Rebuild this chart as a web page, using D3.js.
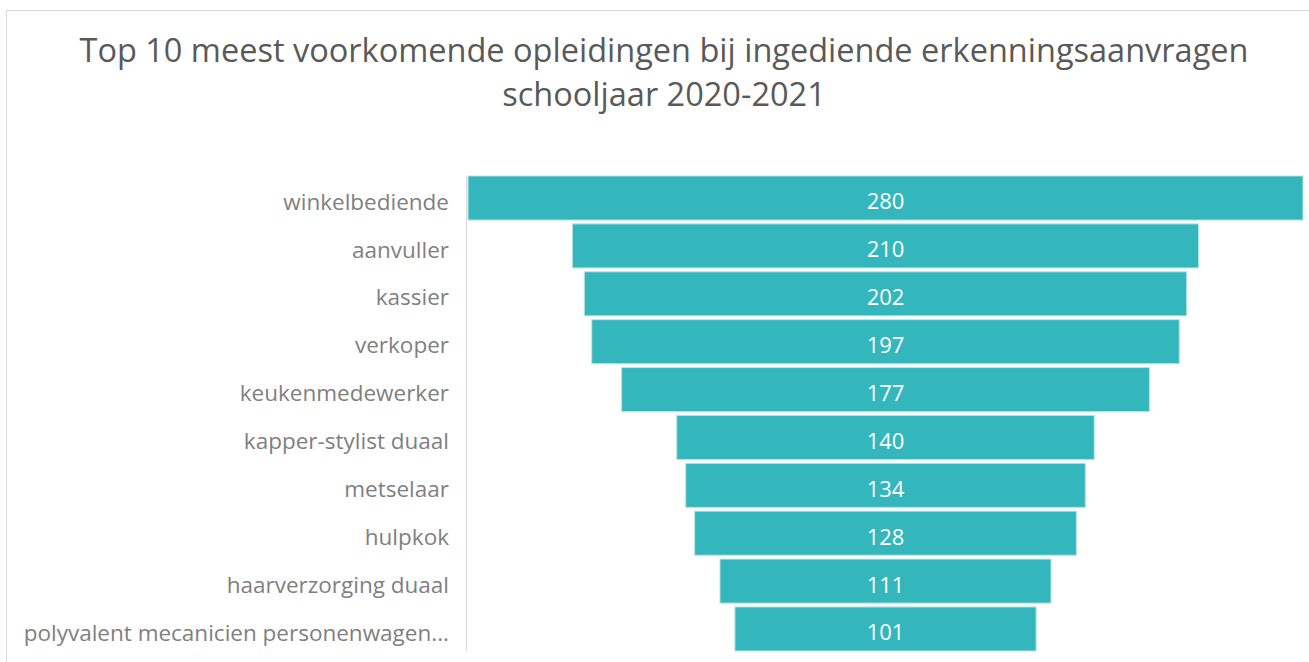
<!doctype html>
<html>
<head>
<script src="https://cdnjs.cloudflare.com/ajax/libs/d3/7.8.5/d3.min.js"></script>
<style>
body { margin: 0; background: #fff; }
svg { font-family: "Open Sans", "Noto Sans", sans-serif; }
.title { font-size: 32.5px; fill: #595959; text-anchor: middle; }
.cat { font-size: 22.5px; fill: #7f7f7f; text-anchor: end; }
.val { font-size: 22px; fill: #fff; text-anchor: middle; }
</style>
</head>
<body>
<svg width="1309" height="662"></svg>
<script>
var categories = ["winkelbediende", "aanvuller", "kassier", "verkoper", "keukenmedewerker",
  "kapper-stylist duaal", "metselaar", "hulpkok", "haarverzorging duaal",
  "polyvalent mecanicien personenwagen..."];
var counts = [280, 210, 202, 197, 177, 140, 134, 128, 111, 101];
var titleLines = ["Top 10 meest voorkomende opleidingen bij ingediende erkenningsaanvragen",
  "schooljaar 2020-2021"];

var svg = d3.select("svg");

// chart frame
svg.append("path")
  .attr("d", "M6.5,662 V10.5 H1309")
  .attr("fill", "none").attr("stroke", "#d9d9d9").attr("stroke-width", 1);

svg.selectAll("text.title").data(titleLines).enter()
  .append("text").attr("class", "title")
  .attr("x", 664).attr("y", (d, i) => 62 + i * 44)
  .text(d => d);

var w = d3.scaleLinear().domain([0, 280]).range([0, 835]);
var y = d3.scaleBand().domain(categories).range([176, 651]).paddingInner(0.08).paddingOuter(0);
var cx = 885.5;

// category axis line
svg.append("line")
  .attr("x1", 466.5).attr("x2", 466.5).attr("y1", 176).attr("y2", 651)
  .attr("stroke", "#d9d9d9");

var rows = svg.selectAll("g.row")
  .data(categories.map((c, i) => ({cat: c, v: counts[i]})))
  .enter().append("g").attr("class", "row");

rows.append("rect")
  .attr("x", d => cx - w(d.v) / 2)
  .attr("y", d => y(d.cat))
  .attr("width", d => w(d.v))
  .attr("height", y.bandwidth())
  .attr("fill", "#33b7bc")
  .attr("stroke", "#b8e4e6").attr("stroke-width", 1);

rows.append("text").attr("class", "val")
  .attr("x", cx)
  .attr("y", d => y(d.cat) + y.bandwidth() / 2 + 3.5)
  .attr("dy", "0.36em")
  .text(d => d.v);

rows.append("text").attr("class", "cat")
  .attr("x", 449)
  .attr("y", d => y(d.cat) + y.bandwidth() / 2 + 3.5)
  .attr("dy", "0.36em")
  .text(d => d.cat);
</script>
</body>
</html>
